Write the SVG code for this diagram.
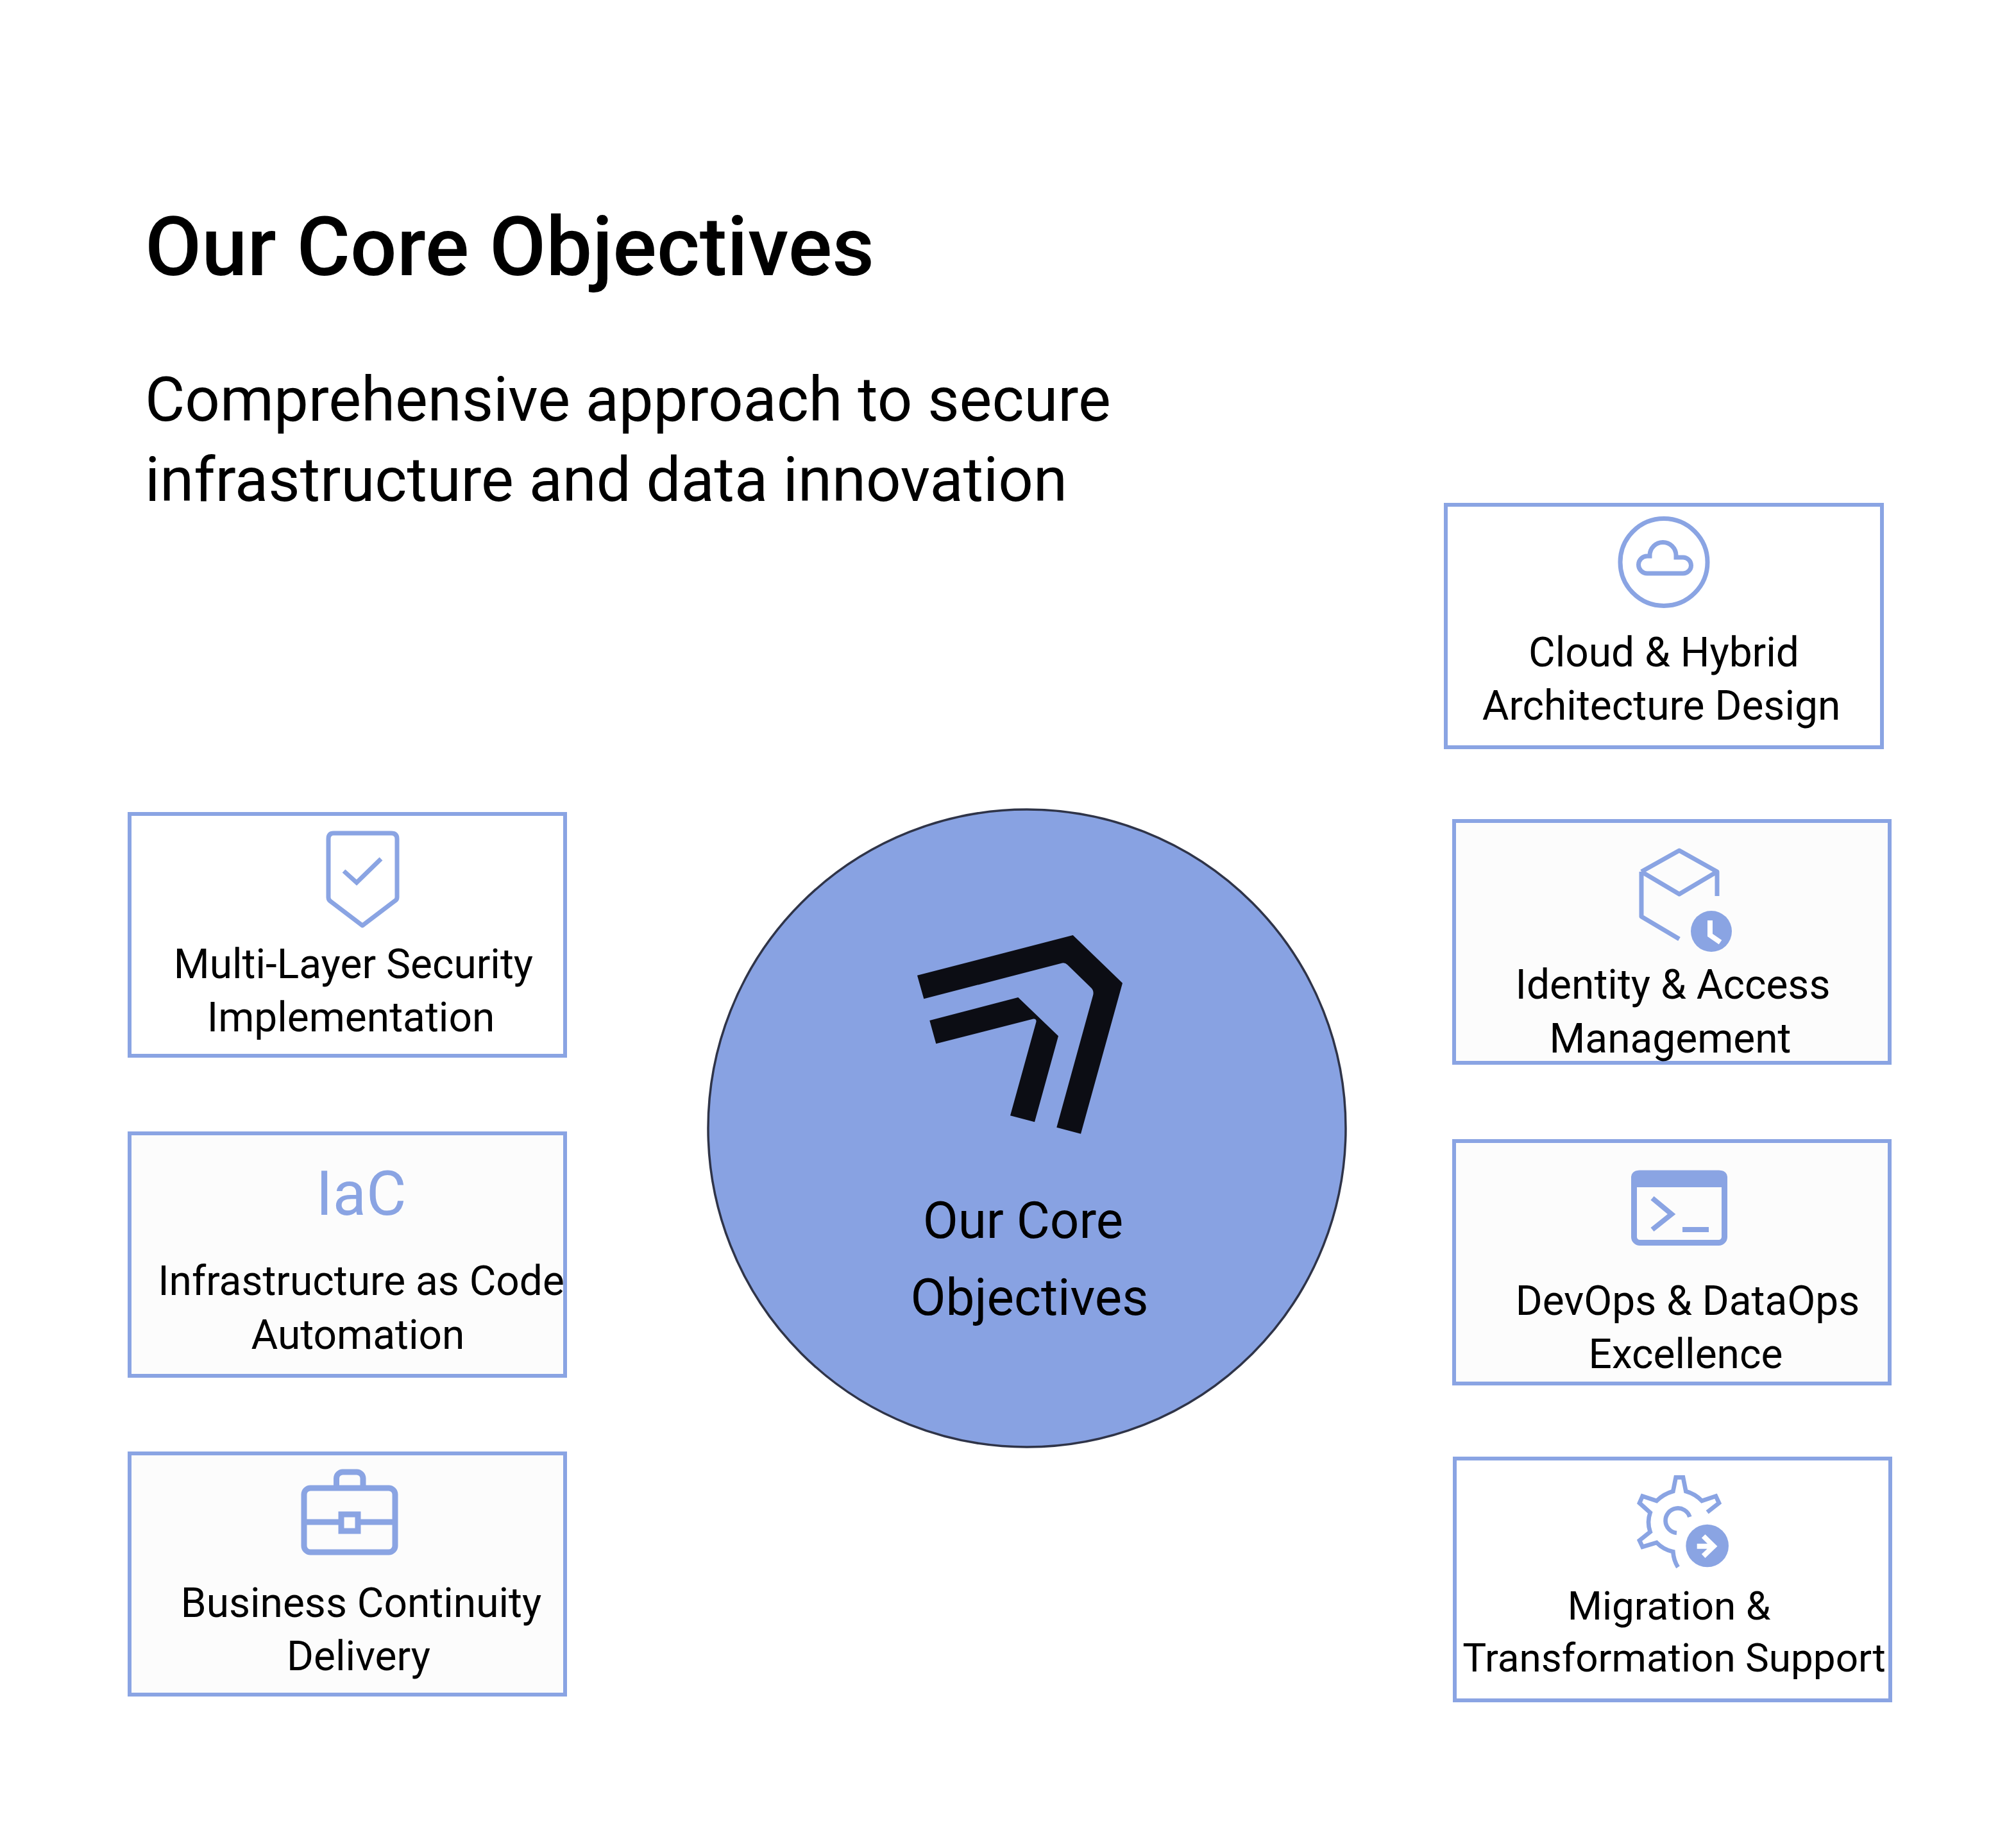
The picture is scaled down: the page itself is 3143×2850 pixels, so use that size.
<svg xmlns="http://www.w3.org/2000/svg" width="3143" height="2850" viewBox="0 0 3143 2850">
<style>
text{font-family:Roboto,"Liberation Sans",sans-serif;fill:#000}
.c{font-size:64px;text-anchor:middle}
.card{stroke:#8aa4e3;stroke-width:6}
.w{fill:#fff}.g{fill:#fcfcfc}
.i{fill:none;stroke:#8aa4e3;stroke-width:7}
.f{fill:#8aa4e3}
</style>
<rect width="3143" height="2850" fill="#fff"/>
<text id="title" x="226" y="429" font-size="128" font-weight="500">Our Core Objectives</text>
<text x="226" y="656" font-size="95.800">Comprehensive approach to secure</text>
<text x="226" y="781" font-size="95.800">infrastructure and data innovation</text>
<g id="connectors"/>
<g id="center">
<circle cx="1601" cy="1759" r="497" fill="#88a2e2" stroke="#2f3448" stroke-width="3.500"/>
<path fill="#0c0d14" d="M1430 1520.7L1672.7 1458L1750 1532.7L1685 1767.7L1647.3 1757.7L1704 1552Q1706 1545 1701 1540L1664 1504Q1660 1500 1654 1502L1440.3 1557.3Z"/>
<path fill="#0c0d14" d="M1449.3 1591L1587.3 1555L1650 1615.3L1613 1749.3L1575 1739.3L1615.5 1593Q1616 1588 1611 1588.5L1459.3 1627.3Z"/>
<text x="1595" y="1930" font-size="80" text-anchor="middle">Our Core</text>
<text x="1605" y="2050" font-size="80" text-anchor="middle">Objectives</text>
</g>
<g id="cloud">
<rect class="card w" x="2254" y="787" width="680" height="378"/>
<circle class="i" cx="2594" cy="876.5" r="68"/>
<path class="i" d="M2568 894H2624a12 12 0 0 0 0-25H2613V866a20.500 20.500 0 0 0-41 0V867H2568a13.500 13.500 0 0 0 0 27Z"/>
<text class="c" x="2594" y="1039">Cloud &amp; Hybrid</text>
<text class="c" x="2590" y="1122">Architecture Design</text>
</g>
<g id="iam">
<rect class="card g" x="2267" y="1280" width="679" height="377"/>
<path class="i" stroke-linejoin="round" d="M2559 1359L2618 1326L2677 1359V1397M2559 1359L2618 1394L2677 1359M2559 1359V1429L2618 1464"/>
<circle class="f" cx="2668" cy="1452" r="32"/>
<path fill="none" stroke="#fff" stroke-width="8" d="M2666 1435V1458L2682 1469"/>
<text class="c" x="2608" y="1557">Identity &amp; Access</text>
<text class="c" x="2604" y="1641">Management</text>
</g>
<g id="devops">
<rect class="card g" x="2267" y="1779" width="679" height="378"/>
<rect class="i" style="stroke-width:9" x="2547.500" y="1829" width="141" height="108.500" rx="9"/>
<path class="f" d="M2543 1851V1835a10 10 0 0 1 10-10H2683a10 10 0 0 1 10 10V1851Z"/>
<path class="i" style="stroke-width:8" d="M2576 1868L2606 1893L2576 1917"/>
<rect class="f" x="2623" y="1913" width="41" height="8"/>
<text class="c" x="2631" y="2050">DevOps &amp; DataOps</text>
<text class="c" x="2628" y="2133">Excellence</text>
</g>
<g id="migration">
<rect class="card w" x="2268" y="2274" width="679" height="377"/>
<g transform="translate(2540 2290) scale(.33333)">
<path fill="none" stroke="#8aa4e3" stroke-width="20" d="M228 460Q208 430 205 388Q160 378 128 345L62 365L48 335L98 295Q82 250 98 205L48 160L62 128L128 150Q160 118 205 105L218 40H252L265 105Q310 118 340 150L405 128L420 160L365 203"/>
<path fill="none" stroke="#8aa4e3" stroke-width="20" d="M283 225A58 58 0 1 0 222 300"/>
<circle cx="365" cy="360" r="100" fill="#8aa4e3"/>
<path fill="none" stroke="#fff" stroke-width="24" d="M317 362H390M347 315L395 362L347 408"/>
</g>
<text class="c" x="2602" y="2525" style="font-size:62px">Migration &amp;</text>
<text class="c" x="2610" y="2606" style="font-size:62px">Transformation Support</text>
</g>
<g id="security">
<rect class="card w" x="202" y="1269" width="679" height="377"/>
<path class="i" stroke-linejoin="round" d="M520 1299H610Q619 1299 619 1308V1399Q619 1403 615 1405L565 1443L515 1405Q512 1403 512 1399V1308Q512 1299 520 1299Z"/>
<path class="i" d="M536 1358L556 1376L594 1339"/>
<text class="c" x="551" y="1525">Multi-Layer Security</text>
<text class="c" x="547" y="1608">Implementation</text>
</g>
<g id="iac">
<rect class="card g" x="202" y="1767" width="679" height="378"/>
<text x="563" y="1894" font-size="96" text-anchor="middle" style="fill:#8aa4e3">IaC</text>
<text class="c" x="563" y="2019">Infrastructure as Code</text>
<text class="c" x="558" y="2103">Automation</text>
</g>
<g id="continuity">
<rect class="card g" x="202" y="2266" width="679" height="376"/>
<rect class="i" style="stroke-width:9" x="474" y="2320" width="142" height="100" rx="10"/>
<path class="i" style="stroke-width:9" d="M524.500 2320V2305a10 10 0 0 1 10-10H556a10 10 0 0 1 10 10V2320"/>
<path class="i" style="stroke-width:9" d="M474 2373H528M562 2373H616"/>
<rect class="i" style="stroke-width:9" x="532" y="2361" width="26" height="26"/>
<text class="c" x="563" y="2521">Business Continuity</text>
<text class="c" x="559" y="2604">Delivery</text>
</g>
</svg>
